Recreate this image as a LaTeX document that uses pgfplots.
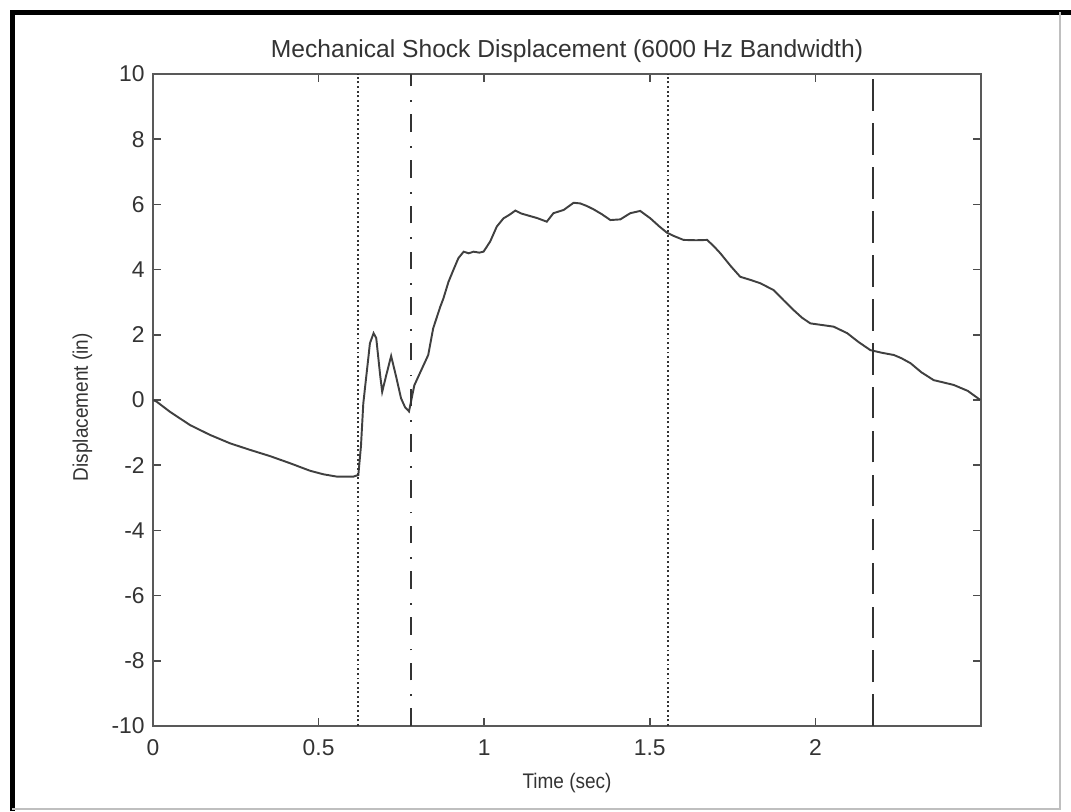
\documentclass[border=0pt]{standalone}
\usepackage{pgfplots}
\pgfplotsset{compat=1.18}
\usepackage{fontspec}
\setmainfont[FakeStretch=0.9]{Liberation Sans}
\newfontfamily\tickfont{Liberation Sans}
\begin{document}
\begin{tikzpicture}
\path[use as bounding box] (-3.06,-1.70) rectangle (18.36,14.52);
\draw[black, line width=2.6pt] (-2.81,-1.70) -- (-2.81,14.27) -- (18.36,14.27);
\draw[black!25, line width=0.6pt] (-2.81,-1.66) -- (18.14,-1.66) -- (18.14,14.27);
\begin{axis}[
  at={(0,0)}, anchor=south west,
  scale only axis, width=16.56cm, height=13.04cm,
  xmin=0, xmax=2.5, ymin=-10, ymax=10,
  xtick={0,0.5,1,1.5,2}, ytick={-10,-8,-6,-4,-2,0,2,4,6,8,10},
  xticklabels={0,0.5,1,1.5,2},
  tick align=inside, major tick length=0.16cm,
  tick style={black!70, line width=0.9pt},
  axis line style={black!65, line width=1.1pt},
  /pgf/number format/assume math mode=true,
  ticklabel style={font=\tickfont\fontsize{13}{15}\selectfont, text=black!80},
  xticklabel style={anchor=base, inner sep=0pt, yshift=-0.58cm},
  yticklabel style={anchor=east, inner sep=0pt, xshift=-0.16cm},
  title={Mechanical Shock Displacement (6000 Hz Bandwidth)},
  title style={at={(axis description cs:0.5,1.026)}, anchor=base, inner sep=0pt, yshift=-6pt, font=\tickfont\fontsize{14}{16}\selectfont, text=black!80},
  xlabel={Time (sec)},
  xlabel style={at={(axis description cs:0.5,-0.0951)}, anchor=base, inner sep=0pt, font=\fontsize{12}{14}\selectfont, text=black!80},
  ylabel={Displacement (in)},
  ylabel style={at={(axis description cs:-0.0785,0.489)}, anchor=base, inner sep=0pt, font=\fontsize{12}{14}\selectfont, text=black!80},
  clip=true,
]
\addplot[black!75, line width=1.1pt] coordinates {
(0.000,0.00) (0.011,-0.05) (0.051,-0.36) (0.112,-0.77) (0.172,-1.07) (0.233,-1.33)
(0.293,-1.53) (0.353,-1.72) (0.414,-1.94) (0.474,-2.17) (0.515,-2.28) (0.555,-2.35)
(0.605,-2.35) (0.620,-2.30) (0.628,-1.40) (0.635,-0.10) (0.645,0.82) (0.655,1.74)
(0.666,2.05) (0.674,1.90) (0.686,0.75) (0.692,0.25) (0.704,0.75) (0.719,1.35)
(0.734,0.72) (0.749,0.05) (0.761,-0.22) (0.773,-0.35) (0.779,-0.05) (0.789,0.45)
(0.807,0.85) (0.831,1.38) (0.846,2.20) (0.867,2.85) (0.877,3.12) (0.892,3.62) (0.907,3.99)
(0.922,4.35) (0.938,4.55) (0.953,4.50) (0.968,4.55) (0.985,4.52) (0.998,4.55) (1.018,4.86) (1.038,5.32) (1.058,5.57)
(1.076,5.68) (1.094,5.81) (1.112,5.72) (1.129,5.67) (1.160,5.58) (1.189,5.47) (1.209,5.73) (1.240,5.83) (1.270,6.05)
(1.290,6.03) (1.310,5.95) (1.330,5.85) (1.355,5.70) (1.381,5.52) (1.411,5.54) (1.441,5.73) (1.471,5.80)
(1.502,5.57) (1.528,5.33) (1.552,5.13) (1.575,5.02) (1.602,4.91) (1.640,4.90) (1.673,4.91) (1.693,4.72) (1.713,4.50) (1.745,4.10) (1.773,3.78)
(1.805,3.68) (1.834,3.58) (1.874,3.37) (1.905,3.05) (1.934,2.76) (1.960,2.52) (1.985,2.35) (2.020,2.30) (2.055,2.25) (2.096,2.05)
(2.130,1.78) (2.166,1.53) (2.200,1.45) (2.237,1.38) (2.260,1.28) (2.287,1.13) (2.320,0.85) (2.357,0.61) (2.390,0.53) (2.418,0.46) (2.460,0.28) (2.498,0.00)
};
\addplot[black!80, line width=1pt, dash pattern=on 1.1pt off 1.55pt] coordinates {(0.620,-10) (0.620,10)};
\addplot[black!80, line width=1pt, dash pattern=on 10pt off 7pt on 1pt off 8pt] coordinates {(0.779,-10) (0.779,10)};
\addplot[black!80, line width=1pt, dash pattern=on 1.1pt off 1.55pt] coordinates {(1.556,-10) (1.556,10)};
\addplot[black!80, line width=1pt, dash pattern=on 18pt off 7pt] coordinates {(2.173,-10) (2.173,10)};
\end{axis}
\end{tikzpicture}
\end{document}
